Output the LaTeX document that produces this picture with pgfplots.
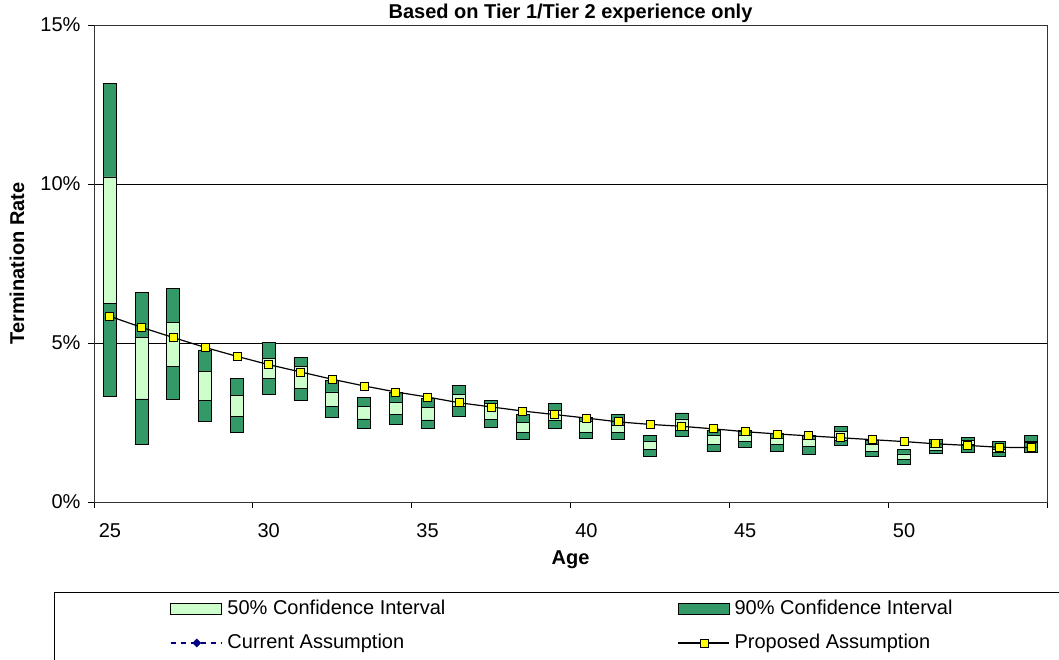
\documentclass[border=0pt]{standalone}
\usepackage{fontspec}
\setmainfont{Liberation Sans}
\usepackage{pgfplots}
\usepackage{pgfplotstable}
\pgfplotsset{compat=1.18}

\definecolor{ciLight}{RGB}{204,255,204}
\definecolor{ciDark}{RGB}{51,153,102}
\definecolor{curNavy}{RGB}{0,0,128}
\definecolor{propYellow}{RGB}{255,255,0}

% Termination rates (%) by age: 90% and 50% confidence bounds, proposed assumption
\pgfplotstableread{
age lo90 lo50 hi50  hi90  prop
25  3.32 6.24 10.22 13.15 5.84
26  1.81 3.24 5.18  6.59  5.49
27  3.23 4.25 5.66  6.70  5.17
28  2.54 3.20 4.11  4.78  4.86
29  2.19 2.69 3.36  3.88  4.58
30  3.38 3.87 4.52  5.02  4.32
31  3.18 3.57 4.25  4.54  4.09
32  2.67 3.00 3.46  3.82  3.86
33  2.32 2.61 3.00  3.30  3.65
34  2.45 2.75 3.13  3.43  3.46
35  2.31 2.58 2.96  3.25  3.30
36  2.69 2.99 3.37  3.66  3.12
37  2.33 2.59 3.09  3.20  2.99
38  1.96 2.19 2.49  2.75  2.86
39  2.30 2.57 2.87  3.11  2.75
40  1.99 2.20 2.54  2.66  2.64
41  1.96 2.19 2.42  2.74  2.52
42  1.43 1.64 1.91  2.09  2.44
43  2.06 2.25 2.61  2.80  2.38
44  1.59 1.80 2.08  2.24  2.30
45  1.73 1.91 2.08  2.26  2.21
46  1.59 1.80 2.01  2.14  2.14
47  1.49 1.75 1.96  2.10  2.08
48  1.79 1.95 2.22  2.36  2.02
49  1.43 1.59 1.80  1.92  1.96
50  1.19 1.33 1.51  1.64  1.90
51  1.52 1.62 1.70  1.98  1.83
52  1.56 1.80 1.93  2.04  1.78
53  1.43 1.57 1.66  1.89  1.72
54  1.57 1.86 1.91  2.09  1.71
}\termdata

\pgfplotsset{
  chartbox/.style={
    at={(94pt,158pt)}, anchor=south west,
    scale only axis, width=953pt, height=477pt,
    xmin=24.5, xmax=54.5, ymin=0, ymax=15,
    font=\fontsize{20}{24}\selectfont,
  },
}

\begin{document}
\begin{tikzpicture}
\useasboundingbox (0pt,0pt) rectangle (1059pt,660pt);
\clip (0pt,0pt) rectangle (1059pt,660pt);

% confidence-interval bars
\begin{axis}[chartbox,
  ybar stacked, bar width=13pt,
  axis line style={black!80, line width=0.9pt},
  ymajorgrids, grid style={black, line width=0.8pt},
  tick align=outside, major tick length=6pt, tick pos=left,
  tick style={black, line width=0.8pt},
  xtick={24.5,29.5,34.5,39.5,44.5,49.5,54.5}, xticklabels={},
  extra x ticks={25,30,35,40,45,50},
  extra x tick labels={25,30,35,40,45,50},
  extra x tick style={major tick length=0pt, grid=none,
    xticklabel style={anchor=base, yshift=-36pt}},
  ytick={0,5,10,15}, yticklabels={0\%,5\%,10\%,15\%},
  yticklabel style={anchor=east, xshift=-4pt},
  xlabel={\bfseries Age},
  xlabel style={at={(axis description cs:0.5,-0.132)}, anchor=base},
  ylabel={\bfseries Termination Rate},
  ylabel style={at={(axis description cs:-0.0808,0.5)}, anchor=center},
  title={\bfseries Based on Tier 1/Tier 2 experience only},
  title style={at={(axis description cs:0.5,1.0126)}, anchor=base, yshift=-6pt},
]
\addplot[draw=none, fill=none] table[x=age, y=lo90] {\termdata};
\addplot[draw=black, line width=0.9pt, fill=ciDark]
  table[x=age, y expr=\thisrow{lo50}-\thisrow{lo90}] {\termdata};
\addplot[draw=black, line width=0.9pt, fill=ciLight]
  table[x=age, y expr=\thisrow{hi50}-\thisrow{lo50}] {\termdata};
\addplot[draw=black, line width=0.9pt, fill=ciDark]
  table[x=age, y expr=\thisrow{hi90}-\thisrow{hi50}] {\termdata};
\end{axis}

% assumption curve and legend
\begin{axis}[chartbox, hide axis,
  legend columns=2,
  legend cell align=left,
  legend style={draw=none, fill=none, inner sep=0pt, outer sep=0pt,
    at={(axis description cs:0.07975,-0.2023)}, anchor=north west,
    font=\fontsize{20}{24}\selectfont,
    nodes={inner sep=1pt, text height=15pt, text depth=4pt, anchor=west},
    row sep=13pt,
    /tikz/every odd column/.append style={column sep=4pt},
    /tikz/every even column/.append style={column sep=231pt}},
]
\addlegendimage{legend image code/.code={
  \draw[fill=ciLight, draw=black, line width=0.8pt] (0pt,-5.5pt) rectangle (51pt,5.5pt);}}
\addlegendentry{50\% Confidence Interval}
\addlegendimage{legend image code/.code={
  \draw[fill=ciDark, draw=black, line width=0.8pt] (0pt,-5.5pt) rectangle (51pt,5.5pt);}}
\addlegendentry{90\% Confidence Interval}
\addlegendimage{legend image code/.code={
  \draw[curNavy, line width=1.5pt, dash pattern=on 5pt off 5pt] (0pt,0pt) -- (51pt,0pt);
  \fill[curNavy] (26pt,-4pt) -- (30pt,0pt) -- (26pt,4pt) -- (22pt,0pt) -- cycle;}}
\addlegendentry{Current Assumption}
\addplot[black, line width=1.2pt, mark=square*, mark size=4pt,
  mark options={fill=propYellow, draw=black, line width=0.8pt},
  legend image code/.code={
    \draw[black, line width=1.2pt] (0pt,0pt) -- (51pt,0pt);
    \draw[black, fill=propYellow, line width=0.8pt] (22pt,-4pt) rectangle (30pt,4pt);}]
  table[x=age, y=prop] {\termdata};
\addlegendentry{Proposed Assumption}
\end{axis}

% legend frame running past the page edge
\draw[black, line width=0.9pt] (54pt,68pt) rectangle (1090pt,-30pt);
\end{tikzpicture}
\end{document}
